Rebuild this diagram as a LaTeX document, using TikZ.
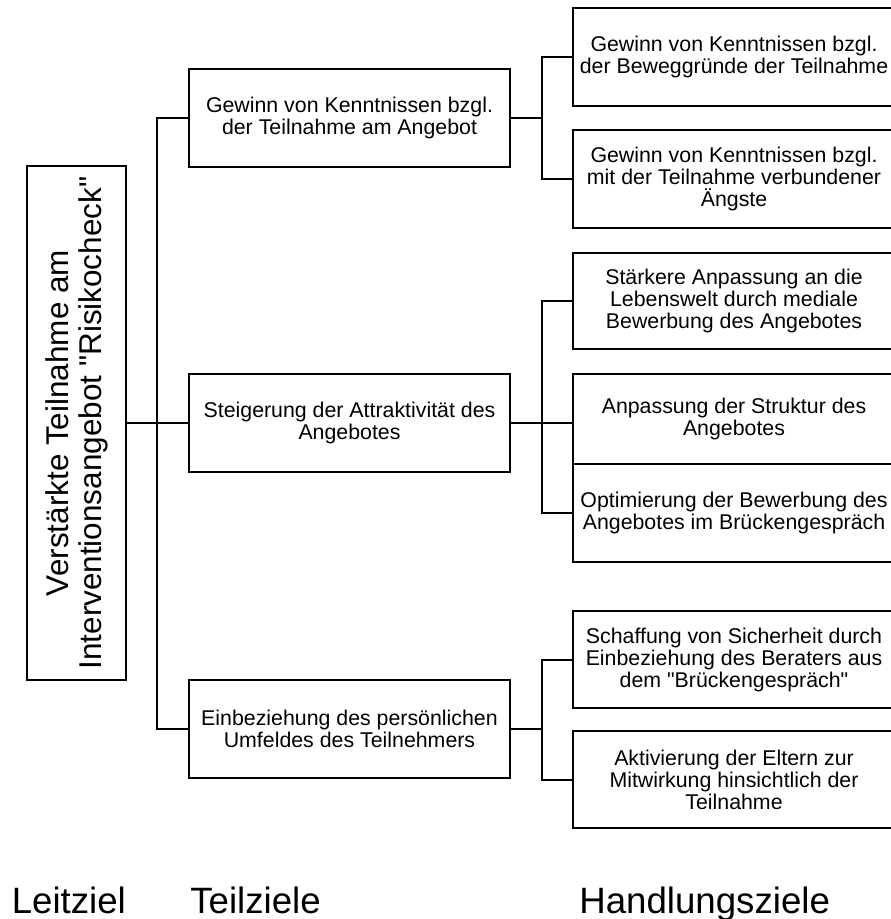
\documentclass[tikz,border=0pt]{standalone}
\usepackage{fontspec}
\setmainfont{Liberation Sans}
\begin{document}
\begin{tikzpicture}[x=0.75pt, y=-0.75pt,
    box style/.style={draw=black, line width=1.5pt, align=center, inner sep=0pt},
    lead style/.style={box style, rotate=90, minimum width=385.5pt, minimum height=74.25pt,
        font=\fontsize{23.6}{24.75}\selectfont},
    sub style/.style={box style, minimum width=240.75pt, minimum height=73.5pt,
        font=\fontsize{16}{16.5}\selectfont},
    act style/.style={box style, minimum width=241.5pt,
        font=\fontsize{16}{16.5}\selectfont},
    link style/.style={draw=black, line width=1.5pt},
    level style/.style={anchor=base west, inner sep=0pt, font=\fontsize{27.5}{30}\selectfont}]
    \useasboundingbox (0,0) rectangle (890,919);

    \coordinate (trunk) at (157,0);
    \coordinate (fork) at (542,0);

    % Leitziel
    \node[lead style] (lz) at (76.5,423) {Verst\"arkte Teilnahme am\\Interventionsangebot \textquotedbl Risikocheck\textquotedbl};

    % Teilziele
    \node[sub style] (tz1) at (349.5,118) {Gewinn von Kenntnissen bzgl.\\der Teilnahme am Angebot};
    \node[sub style] (tz2) at (349.5,423) {Steigerung der Attraktivit\"at des\\Angebotes};
    \node[sub style] (tz3) at (349.5,728.5) {Einbeziehung des pers\"onlichen\\Umfeldes des Teilnehmers};

    % Handlungsziele
    \node[act style, minimum height=73.5pt] (hz1) at (734,57) {Gewinn von Kenntnissen bzgl.\\der Beweggr\"unde der Teilnahme};
    \node[act style, minimum height=73.5pt] (hz2) at (734,179) {Gewinn von Kenntnissen bzgl.\\mit der Teilnahme verbundener\\\"Angste};
    \node[act style, minimum height=72pt] (hz3) at (734,301) {St\"arkere Anpassung an die\\Lebenswelt durch mediale\\Bewerbung des Angebotes};
    \node[act style, minimum height=67.5pt] (hz4) at (734,419) {Anpassung der Struktur des\\Angebotes};
    \node[act style, minimum height=73.5pt] (hz5) at (734,513) {Optimierung der Bewerbung des\\Angebotes im Br\"uckengespr\"ach};
    \node[act style, minimum height=72.75pt] (hz6) at (734,659.5) {Schaffung von Sicherheit durch\\Einbeziehung des Beraters aus\\dem \textquotedbl Br\"uckengespr\"ach\textquotedbl};
    \node[act style, minimum height=72.75pt] (hz7) at (734,779.5) {Aktivierung der Eltern zur\\Mitwirkung hinsichtlich der\\Teilnahme};

    \draw[style=link style] (lz.south) -- (tz2.west);
    \draw[style=link style] (tz1.west) -- (tz1.west -| trunk) -- (tz3.west -| trunk) -- (tz3.west);

    \draw[style=link style] (tz1.east) -- (tz1.east -| fork);
    \draw[style=link style] (hz1.west) -- (hz1.west -| fork) -- (hz2.west -| fork) -- (hz2.west);

    \draw[style=link style] (tz2.east) -- (hz4.west |- tz2.east);
    \draw[style=link style] (hz3.west) -- (hz3.west -| fork) -- (hz5.west -| fork) -- (hz5.west);

    \draw[style=link style] (tz3.east) -- (tz3.east -| fork);
    \draw[style=link style] (hz6.west) -- (hz6.west -| fork) -- (hz7.west -| fork) -- (hz7.west);

    \node[level style] (lz label) at (11.5,913) {Leitziel};
    \node[level style] (tz label) at (190,913) {Teilziele};
    \node[level style] (hz label) at (579,913) {Handlungsziele};

\end{tikzpicture}
\end{document}
